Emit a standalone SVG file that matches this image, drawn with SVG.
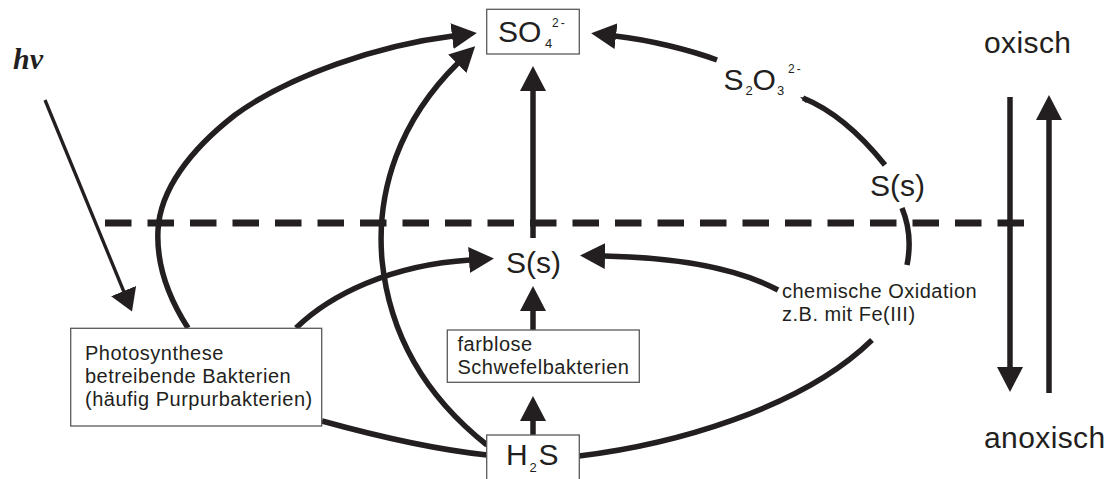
<svg xmlns="http://www.w3.org/2000/svg" width="1110" height="479" viewBox="0 0 1110 479">
  <style>
    .box { fill: #ffffff; stroke: #5a5a5a; stroke-width: 1.3; }
    .lbl { font-family: "Liberation Sans", Arial, sans-serif; fill: #231f20; }
    .big { font-size: 30px; }
    .sub { font-size: 13px; }
    .sup { font-size: 12px; letter-spacing: 2px; }
    .small { font-size: 20px; letter-spacing: 0.5px; }
    .flow { fill: none; stroke: #231f20; stroke-width: 5.5; }
    .thin { fill: none; stroke: #231f20; stroke-width: 3.3; }
    .head { fill: #231f20; }
  </style>
  <defs>
    <marker id="arr" viewBox="0 0 25 26" markerWidth="25" markerHeight="26" refX="1" refY="13" orient="auto" markerUnits="userSpaceOnUse">
      <path class="head" d="M0,0 L25,13 L0,26 z"/>
    </marker>
    <marker id="arrLight" viewBox="0 0 22 27" markerWidth="22" markerHeight="27" refX="1" refY="13.5" orient="auto" markerUnits="userSpaceOnUse">
      <path class="head" d="M0,0 L22,13.5 L0,27 z"/>
    </marker>
  </defs>

  <!-- boundary between oxic and anoxic zone -->
  <path d="M105,223 H1024" fill="none" stroke="#231f20" stroke-width="7" stroke-dasharray="26.5 16"/>

  <g id="connectors">
    <!-- light input -->
    <path class="thin" d="M45,100 L124,292" marker-end="url(#arrLight)"/>
    <!-- phototrophs to sulfate -->
    <path class="flow" d="M188,328 C170,300 156,268 158,230 C160,190 190,150 235,115 C290,75 380,45 453,36" marker-end="url(#arr)"/>
    <!-- phototrophs to sulfur -->
    <path class="flow" d="M296,328 C330,295 390,265 470,260" marker-end="url(#arr)"/>
    <!-- sulfide to phototrophs -->
    <path class="flow" d="M322,421 C380,437 440,450 487,455"/>
    <!-- sulfide to sulfate -->
    <path class="flow" d="M487,445 C430,400 390,340 382,260 C376,190 400,120 458,63" marker-end="url(#arr)"/>
    <!-- sulfur to sulfate -->
    <path class="flow" d="M533,238 V90" marker-end="url(#arr)"/>
    <!-- colourless sulfur bacteria to sulfur -->
    <path class="flow" d="M533,330 V310" marker-end="url(#arr)"/>
    <!-- sulfide to colourless sulfur bacteria -->
    <path class="flow" d="M533,436 V420" marker-end="url(#arr)"/>
    <!-- chemical oxidation to sulfur -->
    <path class="flow" d="M778,290 C750,275 700,258 604,256" marker-end="url(#arr)"/>
    <!-- outer loop via S(s) and thiosulfate -->
    <path class="flow" d="M579,456 C670,445 800,410 872,340"/>
    <path class="flow" d="M907,265 C911,245 909,225 902,208"/>
    <path class="flow" d="M885,165 Q845,115 803,98"/>
    <path class="head" d="M800,97 L809,98 L806,103 z"/>
    <path class="flow" d="M717,60 C690,50 650,40 615,36" marker-end="url(#arr)"/>
    <!-- gradient arrows -->
    <path class="flow" d="M1010,97 V368" stroke-width="6" marker-end="url(#arr)"/>
    <path class="flow" d="M1049,393 V119" stroke-width="6" marker-end="url(#arr)"/>
  </g>

  <g id="hv">
    <text x="13" y="69" font-family="'Liberation Serif', 'Times New Roman', serif" font-size="30" font-weight="bold" font-style="italic" fill="#231f20">hv</text>
  </g>

  <g id="sulfate">
    <rect class="box" x="486.7" y="9.3" width="92.6" height="44.7"/>
    <text class="lbl big" x="498" y="42">SO</text>
    <text class="lbl sub" x="545" y="47.5">4</text>
    <text class="lbl sup" x="552" y="27">2-</text>
  </g>

  <g id="thiosulfate">
    <text class="lbl big" x="723.5" y="90">S</text>
    <text class="lbl sub" x="745.5" y="95">2</text>
    <text class="lbl big" x="752.5" y="90">O</text>
    <text class="lbl sub" x="777" y="95">3</text>
    <text class="lbl sup" x="788" y="73">2-</text>
  </g>

  <g id="sulfur-oxic">
    <text class="lbl big" x="870" y="196">S(s)</text>
  </g>

  <g id="sulfur">
    <text class="lbl big" x="506" y="273">S(s)</text>
  </g>

  <g id="phototrophs">
    <rect class="box" x="70.7" y="328.3" width="251" height="97.7"/>
    <text class="lbl small" x="85" y="360">Photosynthese</text>
    <text class="lbl small" x="85" y="383">betreibende Bakterien</text>
    <text class="lbl small" x="85" y="405.5">(häufig Purpurbakterien)</text>
  </g>

  <g id="colourless-bacteria">
    <rect class="box" x="447.3" y="330" width="192" height="52.3"/>
    <text class="lbl small" x="457.5" y="351">farblose</text>
    <text class="lbl small" x="457.5" y="373.5">Schwefelbakterien</text>
  </g>

  <g id="chemical-oxidation">
    <text class="lbl small" x="782" y="298">chemische Oxidation</text>
    <text class="lbl small" x="782" y="320.5">z.B. mit Fe(III)</text>
  </g>

  <g id="sulfide">
    <rect class="box" x="486.7" y="435" width="92.6" height="50"/>
    <text class="lbl big" x="506" y="465">H</text>
    <text class="lbl sub" x="529.5" y="471.5">2</text>
    <text class="lbl big" x="538.5" y="465">S</text>
  </g>

  <g id="zone-labels">
    <text class="lbl big" x="984" y="53" letter-spacing="0.4">oxisch</text>
    <text class="lbl big" x="984" y="448" letter-spacing="0.4">anoxisch</text>
  </g>
</svg>
